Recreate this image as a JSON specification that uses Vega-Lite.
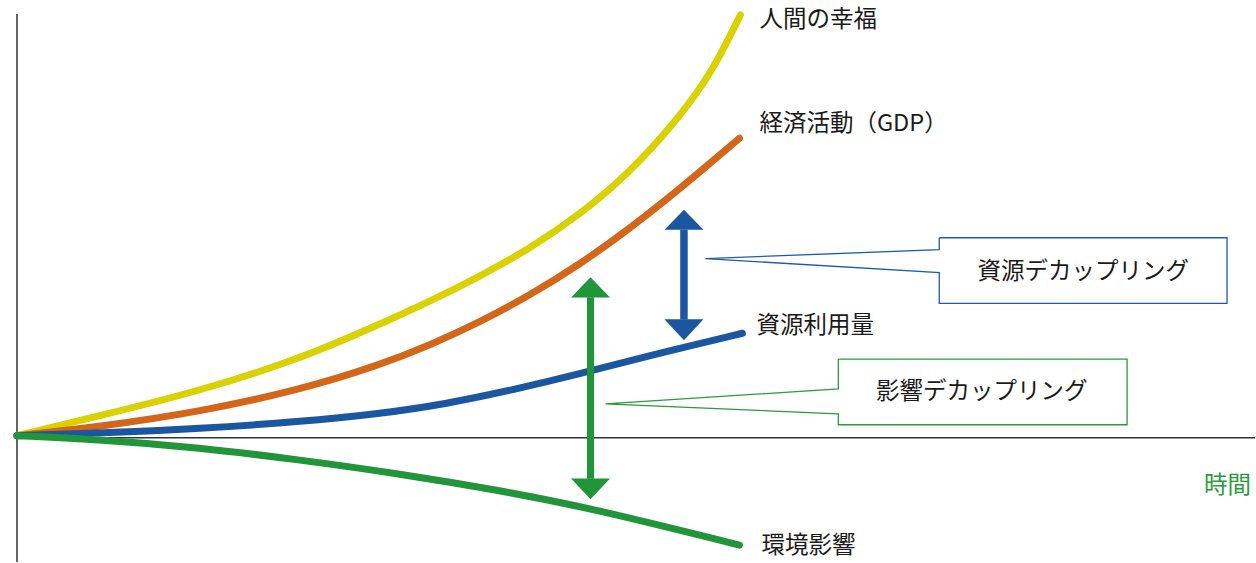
{
  "$schema": "https://vega.github.io/schema/vega-lite/v6.json",
  "width": 1256,
  "height": 563,
  "autosize": {"type": "fit", "contains": "padding"},
  "padding": 0,
  "background": "white",
  "config": {"view": {"stroke": null}},
  "datasets": {
    "curves": [
      {"s": "幸福", "x": 0, "y": 0.2}, {"s": "幸福", "x": 8.3, "y": 2.2}, {"s": "幸福", "x": 18.3, "y": 4.7}, {"s": "幸福", "x": 28.3, "y": 7.9}, {"s": "幸福", "x": 36.3, "y": 11.4}, {"s": "幸福", "x": 41.3, "y": 13.7}, {"s": "幸福", "x": 46.3, "y": 16.2}, {"s": "幸福", "x": 51.3, "y": 19.0}, {"s": "幸福", "x": 56.3, "y": 22.4}, {"s": "幸福", "x": 61.3, "y": 26.6}, {"s": "幸福", "x": 66.3, "y": 32.2}, {"s": "幸福", "x": 69.6, "y": 36.8}, {"s": "幸福", "x": 72.4, "y": 42.5},
      {"s": "GDP", "x": 0, "y": 0.2}, {"s": "GDP", "x": 8.3, "y": 1.1}, {"s": "GDP", "x": 18.3, "y": 2.6}, {"s": "GDP", "x": 28.3, "y": 4.8}, {"s": "GDP", "x": 36.3, "y": 7.3}, {"s": "GDP", "x": 41.3, "y": 9.3}, {"s": "GDP", "x": 46.3, "y": 11.6}, {"s": "GDP", "x": 51.3, "y": 14.3}, {"s": "GDP", "x": 56.3, "y": 17.4}, {"s": "GDP", "x": 61.3, "y": 21.0}, {"s": "GDP", "x": 66.3, "y": 25.0}, {"s": "GDP", "x": 69.6, "y": 27.8}, {"s": "GDP", "x": 72.3, "y": 30.1},
      {"s": "資源", "x": 0, "y": 0.2}, {"s": "資源", "x": 8.3, "y": 0.45}, {"s": "資源", "x": 18.3, "y": 0.9}, {"s": "資源", "x": 28.3, "y": 1.6}, {"s": "資源", "x": 36.3, "y": 2.4}, {"s": "資源", "x": 43.0, "y": 3.4}, {"s": "資源", "x": 49.6, "y": 4.8}, {"s": "資源", "x": 56.3, "y": 6.4}, {"s": "資源", "x": 63.0, "y": 8.2}, {"s": "資源", "x": 72.6, "y": 10.5},
      {"s": "環境", "x": 0, "y": 0.2}, {"s": "環境", "x": 8.3, "y": -0.2}, {"s": "環境", "x": 18.2, "y": -1.0}, {"s": "環境", "x": 28.1, "y": -2.2}, {"s": "環境", "x": 38.1, "y": -3.6}, {"s": "環境", "x": 48.3, "y": -5.3}, {"s": "環境", "x": 57.5, "y": -7.1}, {"s": "環境", "x": 72.3, "y": -10.8}
    ],
    "axes": [
      {"x": 0, "x2": 0, "y": -12.5, "y2": 42.6},
      {"x": 0, "x2": 123.9, "y": 0, "y2": 0}
    ],
    "blueBox": [
      {"o": 0, "x": 92.3, "y": 20.1}, {"o": 1, "x": 121.1, "y": 20.1}, {"o": 2, "x": 121.1, "y": 13.5}, {"o": 3, "x": 92.3, "y": 13.5}, {"o": 4, "x": 92.3, "y": 16.6}, {"o": 5, "x": 68.9, "y": 18.0}, {"o": 6, "x": 92.3, "y": 18.9}, {"o": 7, "x": 92.3, "y": 20.1}
    ],
    "greenBox": [
      {"o": 0, "x": 82.2, "y": 7.9}, {"o": 1, "x": 111.1, "y": 7.9}, {"o": 2, "x": 111.1, "y": 1.3}, {"o": 3, "x": 82.2, "y": 1.3}, {"o": 4, "x": 82.2, "y": 2.4}, {"o": 5, "x": 58.9, "y": 3.4}, {"o": 6, "x": 82.2, "y": 4.9}, {"o": 7, "x": 82.2, "y": 7.9}
    ],
    "blueArrow": [
      {"x": 66.75, "y": 20.9, "y2": 11.9, "dir": "up", "hy": 20.9},
      {"x": 66.75, "y": 20.9, "y2": 11.9, "dir": "down", "hy": 11.9}
    ],
    "greenArrow": [
      {"x": 57.4, "y": 14.1, "y2": -4.1, "dir": "up", "hy": 14.1},
      {"x": 57.4, "y": 14.1, "y2": -4.1, "dir": "down", "hy": -4.1}
    ],
    "labels": [
      {"t": "人間の幸福", "x": 74.3, "y": 42.0},
      {"t": "経済活動（GDP）", "x": 74.3, "y": 31.5},
      {"t": "資源利用量", "x": 74.0, "y": 11.2},
      {"t": "環境影響", "x": 74.5, "y": -10.9}
    ],
    "boxLabels": [
      {"t": "資源デカップリング", "x": 106.7, "y": 16.7},
      {"t": "影響デカップリング", "x": 96.55, "y": 4.6}
    ],
    "axisLabel": [
      {"t": "時間", "x": 118.8, "y": -4.9}
    ]
  },
  "encoding": {
    "x": {"field": "x", "type": "quantitative", "scale": {"domain": [-1.7, 123.9], "nice": false, "zero": false}, "axis": null},
    "y": {"field": "y", "type": "quantitative", "scale": {"domain": [-12.5, 43.8], "nice": false, "zero": false}, "axis": null}
  },
  "layer": [
    {
      "data": {"name": "axes"},
      "mark": {"type": "rule", "color": "#333333", "strokeWidth": 1.5},
      "encoding": {"x2": {"field": "x2"}, "y2": {"field": "y2"}}
    },
    {
      "data": {"name": "blueBox"},
      "mark": {"type": "line", "color": "#1f5aa6", "strokeWidth": 1.3, "interpolate": "linear"},
      "encoding": {"order": {"field": "o", "type": "quantitative"}}
    },
    {
      "data": {"name": "greenBox"},
      "mark": {"type": "line", "color": "#2a9a3e", "strokeWidth": 1.3, "interpolate": "linear"},
      "encoding": {"order": {"field": "o", "type": "quantitative"}}
    },
    {
      "data": {"name": "curves"},
      "mark": {"type": "line", "strokeWidth": 7, "strokeCap": "round", "interpolate": "basis"},
      "encoding": {
        "color": {"field": "s", "type": "nominal", "scale": {"domain": ["幸福", "GDP", "資源", "環境"], "range": ["#d9d100", "#d4661a", "#1b56a0", "#21953a"]}, "legend": null},
        "order": {"field": "x", "type": "quantitative"}
      }
    },
    {
      "data": {"name": "blueArrow"},
      "mark": {"type": "rule", "color": "#1b56a0", "strokeWidth": 7},
      "encoding": {"y2": {"field": "y2"}}
    },
    {
      "data": {"name": "blueArrow"},
      "mark": {"type": "point", "color": "#1b56a0", "filled": true, "opacity": 1, "size": 1521, "strokeWidth": 0},
      "encoding": {
        "y": {"field": "hy", "type": "quantitative"},
        "shape": {"field": "dir", "type": "nominal", "scale": {"domain": ["up", "down"], "range": ["M-1,0L0,-1.03L1,0Z", "M-1,0L0,1.07L1,0Z"]}, "legend": null}
      }
    },
    {
      "data": {"name": "greenArrow"},
      "mark": {"type": "rule", "color": "#21953a", "strokeWidth": 7},
      "encoding": {"y2": {"field": "y2"}}
    },
    {
      "data": {"name": "greenArrow"},
      "mark": {"type": "point", "color": "#21953a", "filled": true, "opacity": 1, "size": 1521, "strokeWidth": 0},
      "encoding": {
        "y": {"field": "hy", "type": "quantitative"},
        "shape": {"field": "dir", "type": "nominal", "scale": {"domain": ["up", "down"], "range": ["M-1,0L0,-1.07L1,0Z", "M-1,0L0,1.07L1,0Z"]}, "legend": null}
      }
    },
    {
      "data": {"name": "labels"},
      "mark": {"type": "text", "align": "left", "baseline": "middle", "font": "Noto Sans CJK JP", "fontSize": 23.5, "color": "#1a1a1a"},
      "encoding": {"text": {"field": "t"}}
    },
    {
      "data": {"name": "boxLabels"},
      "mark": {"type": "text", "align": "center", "baseline": "middle", "font": "Noto Sans CJK JP", "fontSize": 23.5, "color": "#1a1a1a"},
      "encoding": {"text": {"field": "t"}}
    },
    {
      "data": {"name": "axisLabel"},
      "mark": {"type": "text", "align": "left", "baseline": "middle", "font": "Noto Sans CJK JP", "fontSize": 23.5, "color": "#2a9a3e"},
      "encoding": {"text": {"field": "t"}}
    }
  ]
}
